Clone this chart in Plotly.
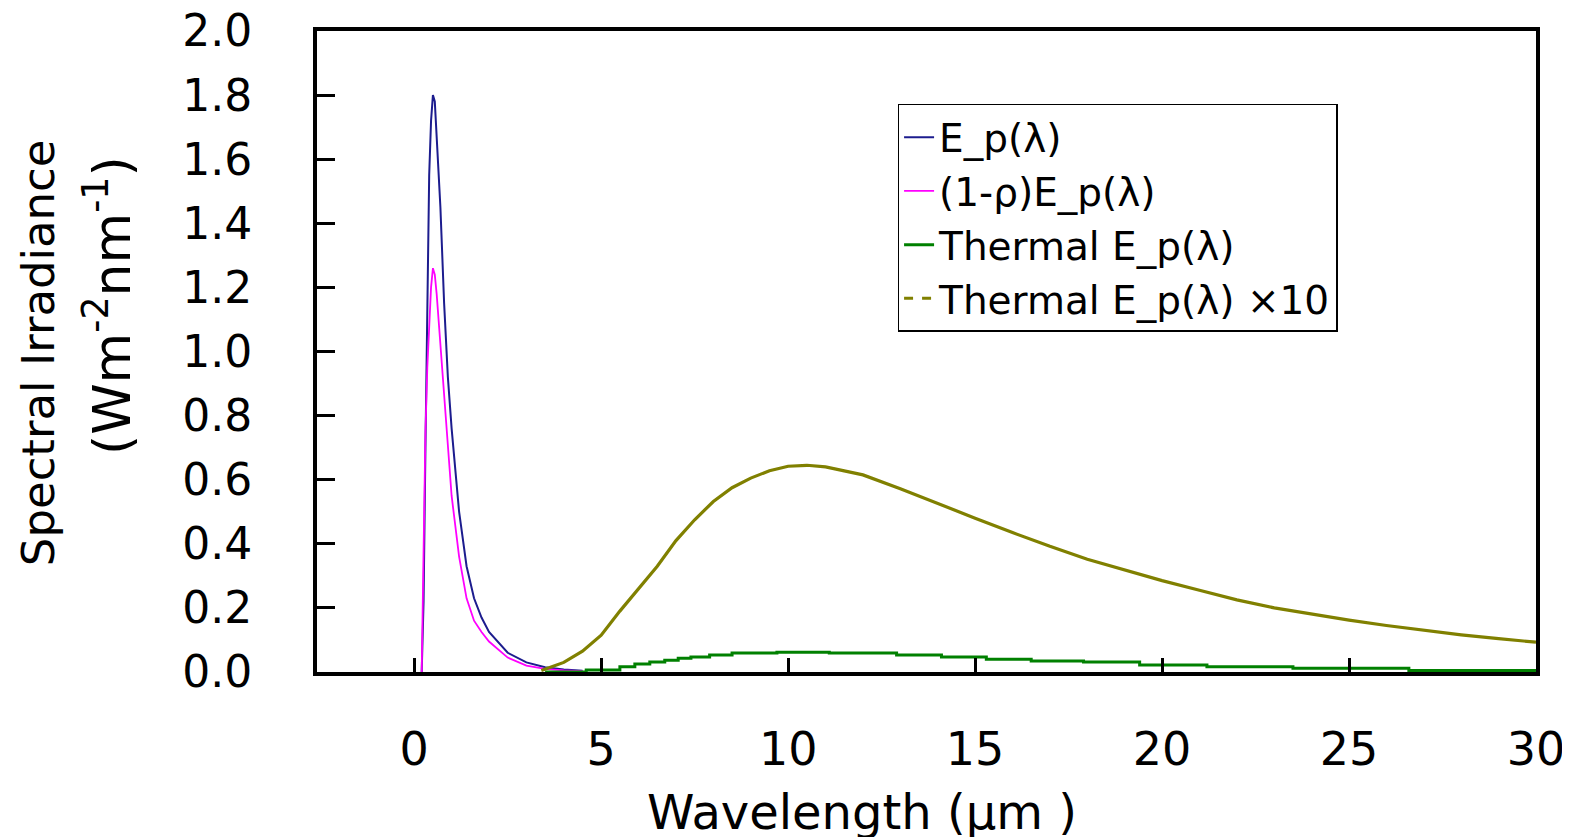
import plotly.graph_objects as go

# ---- data ----
lam_solar = [0.20, 0.25, 0.30, 0.35, 0.40, 0.45, 0.50, 0.55, 0.60, 0.65, 0.70, 0.80,
             0.90, 1.00, 1.20, 1.40, 1.60, 1.80, 2.00, 2.50, 3.00, 3.50, 4.00, 4.50]
e_p = [0.0, 0.22, 0.70, 1.10, 1.55, 1.72, 1.80, 1.78, 1.68, 1.58, 1.45, 1.15,
       0.92, 0.76, 0.50, 0.33, 0.23, 0.17, 0.125, 0.06, 0.03, 0.015, 0.008, 0.004]
e_p_absorbed = [0.0, 0.45, 0.75, 0.95, 1.10, 1.20, 1.26, 1.24, 1.18, 1.10, 1.02, 0.86,
                0.68, 0.55, 0.36, 0.23, 0.16, 0.125, 0.095, 0.045, 0.02, 0.01, 0.005, 0.003]

lam_thermal10 = [3.4, 4.0, 4.5, 5.0, 5.5, 6.0, 6.5, 7.0, 7.5, 8.0, 8.5, 9.0, 9.5, 10.0,
                 10.5, 11.0, 12, 13, 14, 15, 16, 17, 18, 19, 20, 21, 22, 23, 24, 25,
                 26, 27, 28, 29, 30]
thermal10 = [0.005, 0.03, 0.065, 0.115, 0.19, 0.26, 0.33, 0.41, 0.475, 0.532, 0.575, 0.605,
             0.628, 0.642, 0.645, 0.64, 0.615, 0.572, 0.525, 0.48, 0.435, 0.392, 0.352,
             0.318, 0.285, 0.255, 0.225, 0.200, 0.180, 0.162, 0.145, 0.130, 0.116,
             0.104, 0.093]

lam_thermal = [3.5, 4.6, 5.5, 5.9, 6.3, 6.7, 7.06, 7.4, 7.9, 8.5, 9.7, 11.1, 12.9, 14.1,
               15.3, 16.5, 17.9, 19.4, 21.2, 23.5, 26.6, 30]
thermal = [0.0, 0.006, 0.016, 0.025, 0.031, 0.037, 0.043, 0.047, 0.053, 0.059, 0.062,
           0.059, 0.053, 0.047, 0.040, 0.034, 0.031, 0.022, 0.016, 0.012, 0.005, 0.005]

x_ticks = [0, 5, 10, 15, 20, 25, 30]
y_ticks = [0.0, 0.2, 0.4, 0.6, 0.8, 1.0, 1.2, 1.4, 1.6, 1.8, 2.0]

names = ["E_p(λ)", "(1-ρ)E_p(λ)", "Thermal E_p(λ)", "Thermal E_p(λ) ×10"]

FONT = "DejaVu Sans, Liberation Sans, Arial"
BLUE = "#1c1c8e"
PINK = "#ff00ff"
GREEN = "#008000"
OLIVE = "#808000"

# plot-area geometry (page pixels) used to place free text
PX_L, PX_R, PX_T, PX_B = 314, 1536, 30, 672
PW, PH = PX_R - PX_L, PX_B - PX_T


def px(xp):
    return (xp - PX_L) / PW


def py(yp):
    return (PX_B - yp) / PH


fig = go.Figure()
fig.add_trace(go.Scatter(x=lam_solar, y=e_p, mode="lines", name=names[0],
                         line=dict(color=BLUE, width=2)))
fig.add_trace(go.Scatter(x=lam_solar, y=e_p_absorbed, mode="lines", name=names[1],
                         line=dict(color=PINK, width=1.8)))
fig.add_trace(go.Scatter(x=lam_thermal, y=thermal, mode="lines", name=names[2],
                         line=dict(color=GREEN, width=3, shape="hv")))
fig.add_trace(go.Scatter(x=lam_thermal10, y=thermal10, mode="lines", name=names[3],
                         showlegend=False, line=dict(color=OLIVE, width=3.2)))
# legend entry for the dashed x10 series
fig.add_trace(go.Scatter(x=[None], y=[None], mode="lines", name=names[3],
                         line=dict(color=OLIVE, width=3, dash="dash")))

# the page adds a small body margin, so the figure margins are reduced to compensate
fig.update_layout(
    width=1570, height=837,
    margin=dict(l=PX_L - 5, r=1570 - (PX_R - 8), t=PX_T - 7, b=837 - (PX_B - 8)),
    paper_bgcolor="white", plot_bgcolor="white",
    font=dict(family=FONT, color="black"),
    showlegend=True,
    legend=dict(x=px(896), y=py(103), xanchor="left", yanchor="top",
                bgcolor="white", bordercolor="black", borderwidth=1.5,
                font=dict(family=FONT, size=39, color="black"),
                tracegroupgap=0),
)
fig.update_xaxes(
    range=[-2.6, 30], tickvals=x_ticks, ticktext=[str(v) for v in x_ticks],
    showgrid=False, zeroline=False, automargin=False, ticklabeloverflow="allow",
    showline=True, linecolor="black", linewidth=4, mirror=True,
    ticks="inside", ticklen=14, tickwidth=3, tickcolor="black",
    tickfont=dict(family=FONT, size=46, color="black"),
    ticklabelstandoff=34,
)
fig.update_yaxes(
    range=[0, 2.0], tickvals=y_ticks, ticktext=[f"{v:.1f}" for v in y_ticks],
    showgrid=False, zeroline=False, automargin=False, ticklabeloverflow="allow",
    showline=True, linecolor="black", linewidth=4, mirror=True,
    ticks="inside", ticklen=18, tickwidth=3, tickcolor="black",
    tickfont=dict(family=FONT, size=44, color="black"),
    ticklabelstandoff=52,
)

fig.add_annotation(text="Spectral Irradiance", xref="paper", yref="paper",
                   x=px(35), y=py(352), textangle=-90,
                   xanchor="center", yanchor="middle", showarrow=False,
                   font=dict(family=FONT, size=45, color="black"))
fig.add_annotation(text="(Wm<sup>-2</sup>nm<sup>-1</sup>)", xref="paper", yref="paper",
                   x=px(104), y=py(305), textangle=-90,
                   xanchor="center", yanchor="middle", showarrow=False,
                   font=dict(family=FONT, size=52, color="black"))
fig.add_annotation(text="Wavelength (μm )", xref="paper", yref="paper",
                   x=px(860), y=py(812),
                   xanchor="center", yanchor="middle", showarrow=False,
                   font=dict(family=FONT, size=48, color="black"))

fig.write_html("out.html")
